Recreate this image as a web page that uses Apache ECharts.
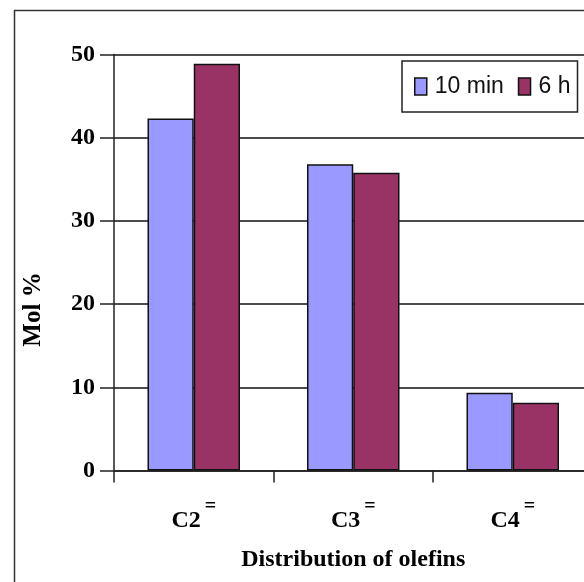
<!DOCTYPE html>
<html>
<head>
<meta charset="utf-8">
<script src="https://cdn.jsdelivr.net/npm/echarts@6/dist/echarts.min.js"></script>
<style>html,body{margin:0;padding:0;background:#fff;}#c{width:584px;height:582px;}</style>
</head>
<body>
<div id="c"></div>
<script>
var categories = ['C2', 'C3', 'C4'];
var series10min = [42.3, 36.8, 9.35];
var series6h = [48.9, 35.8, 8.15];
var seriesNames = ['10 min', '6 h'];
var yTicks = { min: 0, max: 50, interval: 10 };

var chart = echarts.init(document.getElementById('c'), null, { renderer: 'canvas' });
var serif = 'Liberation Serif';
var option = {
  animation: false,
  backgroundColor: '#ffffff',
  graphic: [{
    type: 'rect', left: 12, top: 8, silent: true,
    shape: { x: 0, y: 0, width: 700, height: 700 },
    style: { fill: 'none', stroke: '#333', lineWidth: 1.5 }
  }],
  legend: {
    left: 402, top: 61,
    orient: 'horizontal',
    data: seriesNames,
    icon: 'rect',
    itemWidth: 12, itemHeight: 17,
    itemGap: 14,
    borderColor: '#222', borderWidth: 1.5,
    padding: [14, 7, 14, 12],
    textStyle: { fontFamily: 'Liberation Sans', fontSize: 23, color: '#111', padding: [0, 0, 0, 3] },
    itemStyle: { borderColor: '#111', borderWidth: 1.5 }
  },
  grid: { left: 114, top: 54.5, width: 478.5, bottom: 111.5, containLabel: false, outerBoundsMode: 'none' },
  xAxis: {
    type: 'category',
    data: categories,
    name: 'Distribution of olefins',
    nameLocation: 'middle',
    nameGap: 77,
    nameTextStyle: { fontFamily: serif, fontWeight: 'bold', fontSize: 24, color: '#000' },
    axisLine: { lineStyle: { color: '#222', width: 1.5 } },
    axisTick: { show: true, length: 12, alignWithLabel: false, lineStyle: { color: '#222', width: 1.5 } },
    axisLabel: {
      margin: 26,
      formatter: function (v) { return '{a|' + v + '}{b|=}'; },
      rich: {
        a: { fontFamily: serif, fontWeight: 'bold', fontSize: 24, color: '#000', verticalAlign: 'bottom' },
        b: { fontFamily: serif, fontWeight: 'bold', fontSize: 20, color: '#000', verticalAlign: 'bottom', padding: [0, 0, 16, 4] }
      }
    },
    splitLine: { show: false }
  },
  yAxis: {
    type: 'value',
    min: yTicks.min, max: yTicks.max, interval: yTicks.interval,
    name: 'Mol %',
    nameLocation: 'middle',
    nameRotate: 90,
    nameGap: 68,
    nameTextStyle: { fontFamily: serif, fontWeight: 'bold', fontSize: 25, color: '#000', padding: [0, 94, 0, 0] },
    axisLine: { show: true, lineStyle: { color: '#222', width: 1.5 } },
    axisTick: { show: true, length: 14, lineStyle: { color: '#222', width: 1.5 } },
    axisLabel: { margin: 19, fontFamily: serif, fontWeight: 'bold', fontSize: 24, color: '#000' },
    splitLine: { show: true, lineStyle: { color: '#111', width: 1.5 } }
  },
  series: [{
    name: seriesNames[0], type: 'bar', data: series10min,
    barGap: '0%', barCategoryGap: '42%',
    itemStyle: { color: '#9999FF', borderColor: '#111', borderWidth: 1.5 }
  }, {
    name: seriesNames[1], type: 'bar', data: series6h,
    barGap: '0%', barCategoryGap: '42%',
    itemStyle: { color: '#993366', borderColor: '#111', borderWidth: 1.5 }
  }]
};
chart.setOption(option);
</script>
</body>
</html>
